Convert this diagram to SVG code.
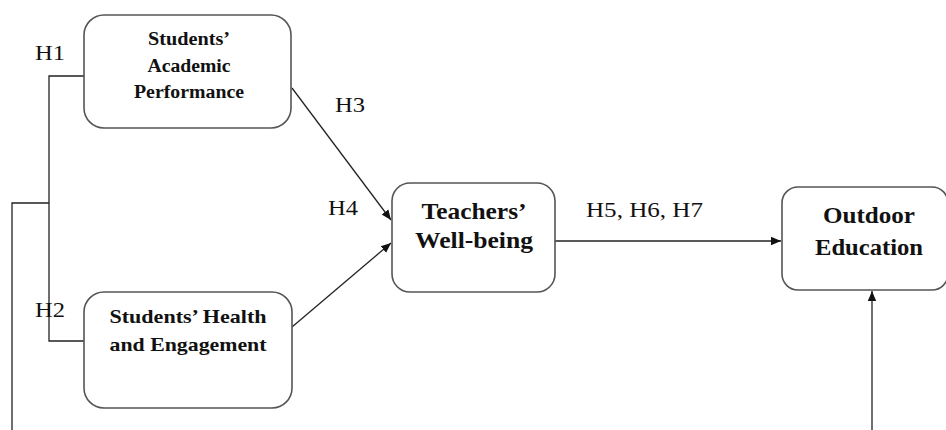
<svg xmlns="http://www.w3.org/2000/svg" width="946" height="430" viewBox="0 0 946 430">
  <defs>
    <marker id="arr" viewBox="0 0 10 10" refX="10" refY="5" markerWidth="10" markerHeight="10" markerUnits="userSpaceOnUse" orient="auto">
      <path d="M0,0.8 L10,5 L0,9.2 Z" fill="#111"/>
    </marker>
    <style>
      .box { fill: #fff; stroke: #555; stroke-width: 1.6; }
      .t { font-family: "Liberation Serif", "Times New Roman", serif; font-weight: bold; fill: #111; text-anchor: middle; }
      .lbl { font-family: "Liberation Serif", "Times New Roman", serif; font-size: 21px; fill: #111; }
      .ln { fill: none; stroke: #222; stroke-width: 1.3; }
    </style>
  </defs>
  <rect width="946" height="430" fill="#fff"/>

  <g id="connectors">
    <polyline class="ln" points="84,76 49,76 49,341 84,341"/>
    <polyline class="ln" points="12,430 12,203 49,203"/>
    <line class="ln" x1="292" y1="88" x2="391" y2="220" marker-end="url(#arr)"/>
    <line class="ln" x1="292" y1="327" x2="391" y2="243" marker-end="url(#arr)"/>
    <line class="ln" x1="555" y1="241" x2="781" y2="241" marker-end="url(#arr)"/>
    <line class="ln" x1="872" y1="430" x2="872" y2="291" marker-end="url(#arr)"/>
    <text class="lbl" x="35" y="60" textLength="30" lengthAdjust="spacingAndGlyphs">H1</text>
    <text class="lbl" x="35" y="317" textLength="30" lengthAdjust="spacingAndGlyphs">H2</text>
    <text class="lbl" x="335" y="112" textLength="30" lengthAdjust="spacingAndGlyphs">H3</text>
    <text class="lbl" x="328" y="215" textLength="30" lengthAdjust="spacingAndGlyphs">H4</text>
    <text class="lbl" x="586" y="217" textLength="117" lengthAdjust="spacingAndGlyphs">H5, H6, H7</text>
  </g>

  <g id="academic">
    <rect class="box" x="84" y="15" width="207" height="113" rx="20"/>
    <text class="t" font-size="18" x="189" y="45" textLength="82" lengthAdjust="spacingAndGlyphs">Students’</text>
    <text class="t" font-size="18" x="189" y="72" textLength="83" lengthAdjust="spacingAndGlyphs">Academic</text>
    <text class="t" font-size="18" x="189" y="98" textLength="110" lengthAdjust="spacingAndGlyphs">Performance</text>
  </g>

  <g id="health">
    <rect class="box" x="84" y="292" width="208" height="116" rx="20"/>
    <text class="t" font-size="19" x="188" y="323" textLength="157" lengthAdjust="spacingAndGlyphs">Students’ Health</text>
    <text class="t" font-size="19" x="188" y="351" textLength="157" lengthAdjust="spacingAndGlyphs">and Engagement</text>
  </g>

  <g id="teachers">
    <rect class="box" x="392" y="183" width="163" height="109" rx="18"/>
    <text class="t" font-size="24" x="474" y="219" textLength="105" lengthAdjust="spacingAndGlyphs">Teachers’</text>
    <text class="t" font-size="24" x="474" y="248" textLength="118" lengthAdjust="spacingAndGlyphs">Well-being</text>
  </g>

  <g id="outdoor">
    <rect class="box" x="782" y="187" width="166" height="103" rx="16"/>
    <text class="t" font-size="24" x="869" y="223" textLength="92" lengthAdjust="spacingAndGlyphs">Outdoor</text>
    <text class="t" font-size="24" x="869" y="255" textLength="108" lengthAdjust="spacingAndGlyphs">Education</text>
  </g>
</svg>
